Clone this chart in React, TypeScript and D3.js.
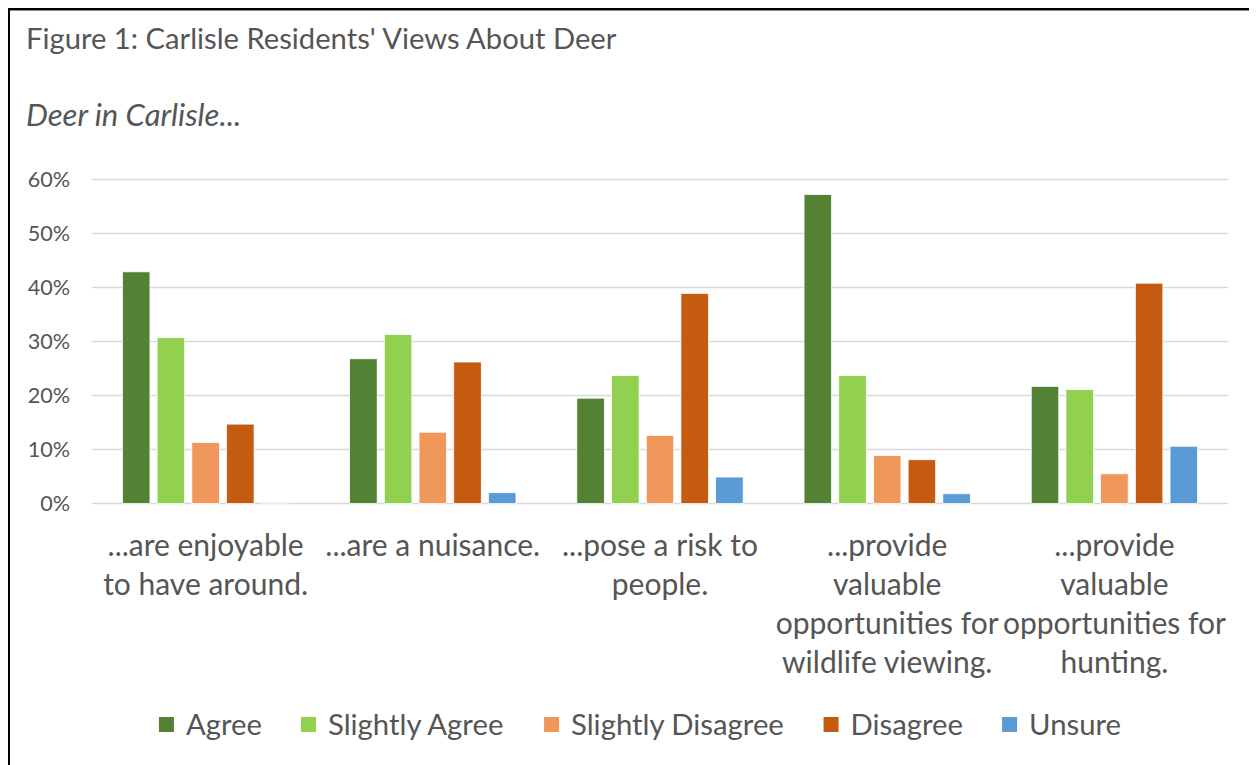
import React from "react";
import * as d3 from "d3";

const categories: string[][] = [
  ["...are enjoyable", "to have around."],
  ["...are a nuisance."],
  ["...pose a risk to", "people."],
  ["...provide", "valuable", "opportunities for", "wildlife viewing."],
  ["...provide", "valuable", "opportunities for", "hunting."],
];
const seriesNames = ["Agree", "Slightly Agree", "Slightly Disagree", "Disagree", "Unsure"];
const seriesColors = ["#548235", "#92D050", "#F0975C", "#C55A11", "#5B9BD5"];
const agree = [42.9, 26.8, 19.5, 57.2, 21.7];
const slightlyAgree = [30.7, 31.3, 23.7, 23.7, 21.1];
const slightlyDisagree = [11.3, 13.2, 12.6, 8.9, 5.5];
const disagree = [14.7, 26.2, 38.9, 8.1, 40.8];
const unsure = [0.2, 2.0, 4.9, 1.8, 10.6];
const yTicks = [0, 10, 20, 30, 40, 50, 60];

const values = [agree, slightlyAgree, slightlyDisagree, disagree, unsure];
const FONT = "Lato, 'Open Sans', sans-serif";
const GREY = "#555555";

function measure(text: string, size: number): number {
  const c = document.createElement("canvas").getContext("2d");
  if (!c) return text.length * size * 0.5;
  c.font = `${size}px Lato`;
  return c.measureText(text).width;
}

export default function App() {
  const W = 1249;
  const H = 757;
  const left = 92, right = 1228, top = 179.5, bottom = 503.5;
  const x0 = d3.scaleBand<number>().domain(categories.map((_, i) => i)).range([left, right]).padding(0);
  const outer = x0.bandwidth() * 0.268;
  const x1 = d3
    .scaleBand<number>()
    .domain(seriesNames.map((_, i) => i))
    .range([outer / 2, x0.bandwidth() - outer / 2])
    .paddingInner(0.207)
    .paddingOuter(0);
  const y = d3.scaleLinear().domain([0, 60]).range([bottom, top]);

  const legendSize = 29.3;
  const sq = 15;
  const gapSqText = 12;
  const gapItems = 39;
  const widths = seriesNames.map((s) => measure(s, legendSize));
  const total = widths.reduce((a, w) => a + sq + gapSqText + w, 0) + gapItems * (seriesNames.length - 1);
  let lx = 640 - total / 2;
  const legendItems = seriesNames.map((s, i) => {
    const it = { name: s, x: lx, color: seriesColors[i] };
    lx += sq + gapSqText + widths[i] + gapItems;
    return it;
  });

  return (
    <svg width={W} height={H} style={{ display: "block", background: "#fff" }} fontFamily={FONT}>
      <g transform="translate(-8,-8)">
        <line x1={9} y1={8} x2={9} y2={800} stroke="#000" strokeWidth={2} />
        <line x1={8} y1={9} x2={1300} y2={9} stroke="#000" strokeWidth={2} />
        <line x1={10} y1={10.5} x2={1300} y2={10.5} stroke="#888" strokeWidth={1} />
        <text x={26} y={49} fontSize={29.2} fill={GREY}>
          Figure 1: Carlisle Residents' Views About Deer
        </text>
        <text x={26} y={126} fontSize={31} fontStyle="italic" fill={GREY}>
          Deer in Carlisle...
        </text>
        {yTicks.map((t) => (
          <g key={t}>
            <line x1={left} x2={right} y1={y(t)} y2={y(t)} stroke="#D9D9D9" strokeWidth={1.5} />
            <text x={70} y={y(t)} dy="0.35em" textAnchor="end" fontSize={21.6} fill={GREY}>
              {t}%
            </text>
          </g>
        ))}
        {categories.map((c, ci) => (
          <g key={ci} transform={`translate(${x0(ci)},0)`}>
            {values.map((vals, si) => (
              <rect
                key={si}
                x={x1(si)}
                y={y(vals[ci])}
                width={x1.bandwidth()}
                height={bottom - y(vals[ci])}
                fill={seriesColors[si]}
                stroke="#fff"
                strokeWidth={0.75}
              />
            ))}
            {c.map((line, li) => (
              <text
                key={li}
                x={x0.bandwidth() / 2}
                y={556 + li * 39}
                textAnchor="middle"
                fontSize={30}
                fill={GREY}
              >
                {line}
              </text>
            ))}
          </g>
        ))}
        {legendItems.map((it) => (
          <g key={it.name}>
            <rect x={it.x} y={717} width={sq} height={sq} fill={it.color} />
            <text x={it.x + sq + gapSqText} y={735} fontSize={legendSize} fill={GREY}>
              {it.name}
            </text>
          </g>
        ))}
      </g>
    </svg>
  );
}
